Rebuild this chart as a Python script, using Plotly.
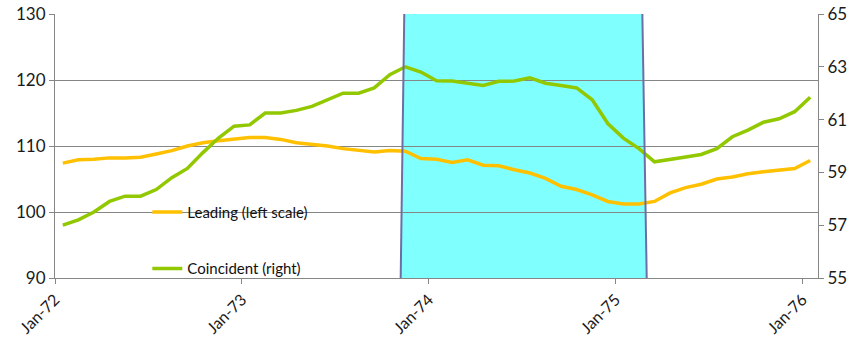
import plotly.graph_objects as go

# Monthly data Jan-72 .. Jan-76 (49 months)
months = list(range(49))
leading = [107.4, 107.9, 108.0, 108.2, 108.2, 108.3, 108.8, 109.3, 110.0, 110.5, 110.8, 111.0,
           111.3, 111.3, 111.0, 110.5, 110.3, 110.0, 109.6, 109.3, 109.1, 109.3, 109.2, 108.1,
           108.0, 107.5, 107.9, 107.1, 107.0, 106.4, 105.9, 105.1, 103.9, 103.4, 102.6, 101.6,
           101.2, 101.2, 101.6, 102.9, 103.7, 104.2, 105.0, 105.3, 105.8, 106.1, 106.4, 106.6,
           107.8]
coincident = [57.0, 57.2, 57.5, 57.9, 58.1, 58.1, 58.35, 58.8, 59.15, 59.75, 60.3, 60.75,
              60.8, 61.25, 61.25, 61.35, 61.5, 61.75, 62.0, 62.0, 62.2, 62.7, 63.0, 62.8,
              62.47, 62.46, 62.37, 62.29, 62.45, 62.46, 62.58, 62.38, 62.29, 62.2, 61.75, 60.85,
              60.3, 59.9, 59.4, 59.48, 59.58, 59.68, 59.9, 60.35, 60.6, 60.9, 61.03, 61.3,
              61.85]
tick_months = [0, 12, 24, 36, 48]
tick_labels = ["Jan-72", "Jan-73", "Jan-74", "Jan-75", "Jan-76"]
left_ticks = [90, 100, 110, 120, 130]
right_ticks = [55, 57, 59, 61, 63, 65]

# Recession band (months from Jan-72)
rec_start_bottom, rec_start_top = 22.2, 22.43
rec_end_top, rec_end_bottom = 37.72, 38.0

xs = [m + 0.5 for m in months]

fig = go.Figure()
fig.add_trace(go.Scatter(x=xs, y=leading, mode="lines", name="Leading (left scale)",
                         line=dict(color="#FFC000", width=3.5), legendgroup="a"))
fig.add_trace(go.Scatter(x=xs, y=coincident, mode="lines", name="Coincident (right)",
                         line=dict(color="#92C800", width=3.5), yaxis="y2", legendgroup="b"))

y0, y1 = left_ticks[0], left_ticks[-1]
fig.add_shape(type="path", xref="x", yref="y", layer="below",
              path=(f"M {rec_start_bottom} {y0} L {rec_start_top} {y1} "
                    f"L {rec_end_top} {y1} L {rec_end_bottom} {y0} Z"),
              fillcolor="#80FFFF", line=dict(width=0))
for (xb, xt) in [(rec_start_bottom, rec_start_top), (rec_end_bottom, rec_end_top)]:
    fig.add_shape(type="line", xref="x", yref="y", layer="above",
                  x0=xb, y0=y0, x1=xt, y1=y1, line=dict(color="#6E6EA6", width=2))

font_family = "Lato, 'Open Sans', sans-serif"
fig.update_layout(
    width=856, height=347,
    margin=dict(l=55, r=38, t=14, b=69),
    plot_bgcolor="rgba(0,0,0,0)", paper_bgcolor="white",
    font=dict(family=font_family, size=17, color="#1a1a1a"),
    showlegend=True,
    legend=dict(x=0.121, y=0.312, xanchor="left", yanchor="top", bgcolor="rgba(0,0,0,0)",
                font=dict(size=15, color="#111111"), tracegroupgap=34, traceorder="grouped"),
    xaxis=dict(range=[0, 49], tickvals=tick_months, ticktext=tick_labels, tickangle=-45,
               showgrid=False, zeroline=False, showline=True, linecolor="#868686", linewidth=1,
               ticks="outside", ticklen=5, tickcolor="#868686", tickfont=dict(size=16),
               automargin=False),
    yaxis=dict(range=[y0, y1], tickvals=left_ticks, showgrid=True, gridcolor="#868686",
               gridwidth=1, zeroline=False, showline=True, linecolor="#868686",
               ticks="outside", ticklen=5, tickcolor="#868686", automargin=False),
    yaxis2=dict(range=[55, 65], tickvals=right_ticks, overlaying="y", side="right",
                showgrid=False, zeroline=False, showline=True, linecolor="#868686",
                ticks="outside", ticklen=5, tickcolor="#868686", automargin=False),
)
fig.write_html("out.html")
